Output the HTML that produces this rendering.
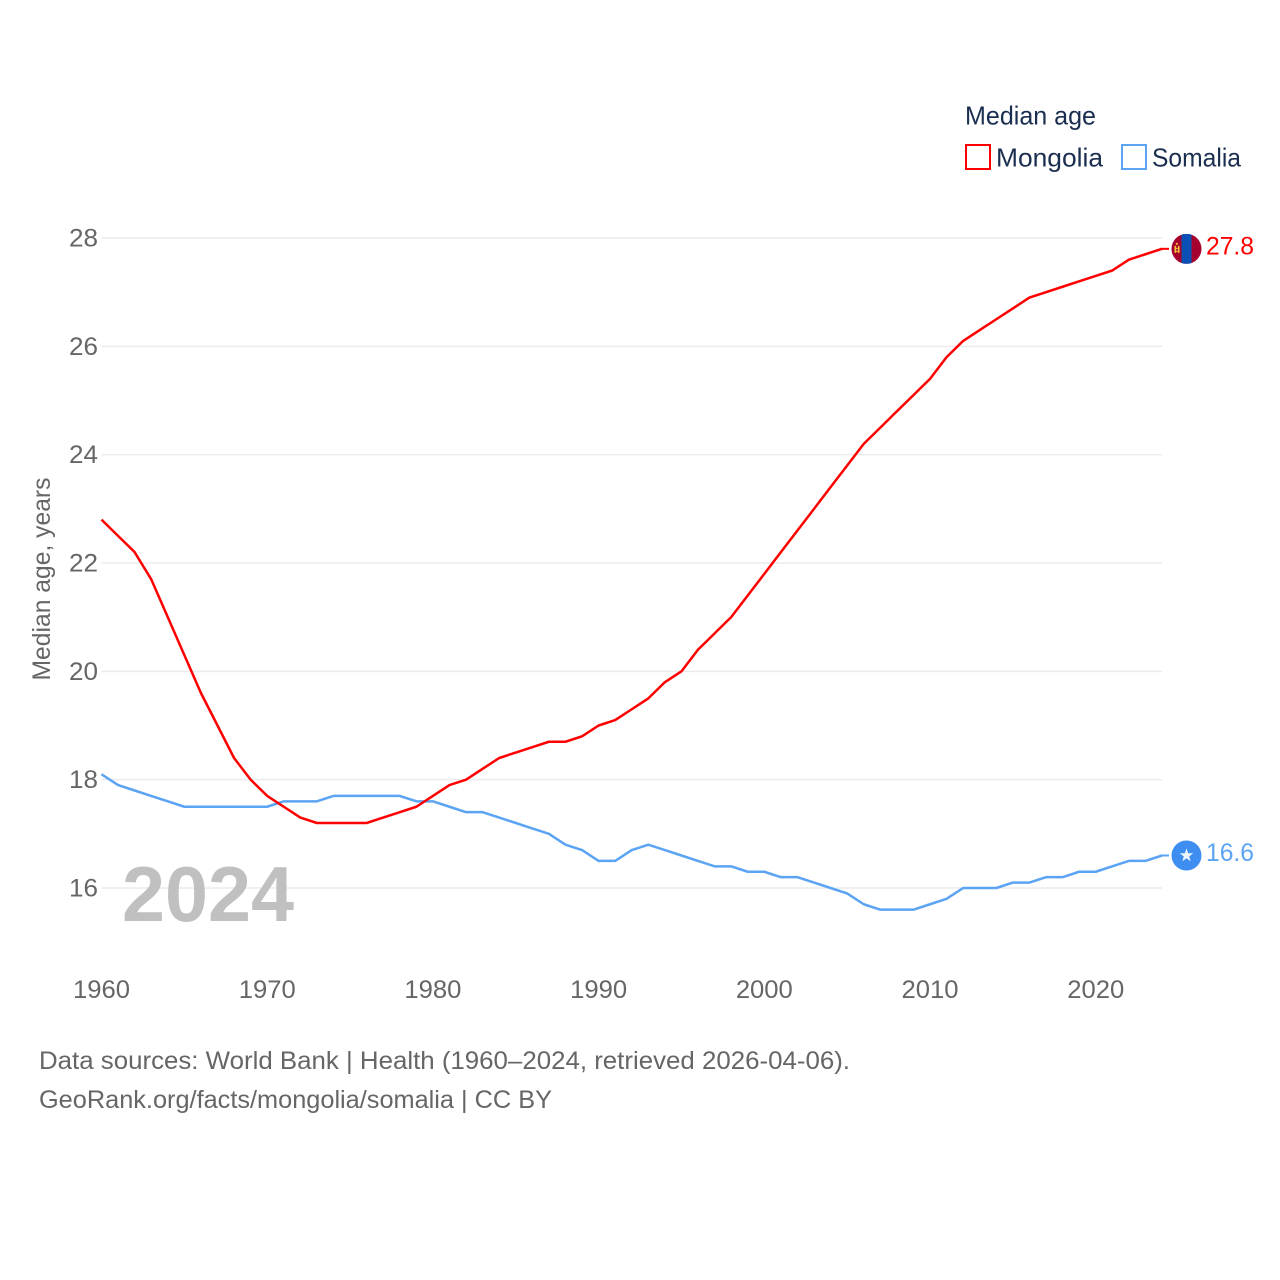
<!DOCTYPE html>
<html lang="en">
<head>
<meta charset="utf-8">
<title>Median age: Mongolia and Somalia</title>
<style>
html,body{margin:0;padding:0;background:#fff;width:1280px;height:1280px;overflow:hidden}
svg{display:block}
text{font-family:"Liberation Sans",sans-serif}
.tick{font-size:25px;fill:#666}
.leg{font-size:26px;fill:#1a2e4f}
.foot{font-size:25px;fill:#666}
</style>
</head>
<body>
<svg id="chart" width="1280" height="1280" viewBox="0 0 1280 1280" xmlns="http://www.w3.org/2000/svg">
  <g id="grid"></g>
  <g id="yticks"></g>
  <g id="xticks"></g>
  <text transform="translate(50,579) rotate(-90)" text-anchor="middle" font-size="25" fill="#666" textLength="203" lengthAdjust="spacingAndGlyphs">Median age, years</text>
  <text x="122" y="921" font-size="78" font-weight="700" fill="#bdbdbd" fill-opacity="0.95" textLength="172" lengthAdjust="spacingAndGlyphs">2024</text>
  <path id="line-somalia" fill="none" stroke="#5ba4f3" stroke-width="2.5" stroke-linejoin="round"></path>
  <path id="line-mongolia" fill="none" stroke="#ff0000" stroke-width="2.5" stroke-linejoin="round"></path>
  <line id="lead-mongolia" stroke="#ff0000" stroke-width="2"></line>
  <line id="lead-somalia" stroke="#5ba4f3" stroke-width="2"></line>

  <g id="marker-mongolia">
    <clipPath id="flagclip"><circle cx="0" cy="0" r="15"></circle></clipPath>
    <g clip-path="url(#flagclip)">
      <rect x="-15" y="-15" width="30" height="30" fill="#a6002c"></rect>
      <rect x="-5" y="-15" width="10" height="30" fill="#0a50b4"></rect>
      <rect x="-12" y="-3" width="1.6" height="7" fill="#f4c838"></rect>
      <rect x="-8.6" y="-3" width="1.6" height="7" fill="#f4c838"></rect>
      <rect x="-10.6" y="-6" width="1.8" height="2" fill="#f4c838"></rect>
      <rect x="-10.4" y="-1" width="1.6" height="1.2" fill="#f4c838"></rect>
      <rect x="-10.4" y="2" width="1.6" height="1.2" fill="#f4c838"></rect>
    </g>
  </g>
  <text id="value-mongolia" font-size="25" fill="#ff0000" textLength="48" lengthAdjust="spacingAndGlyphs"></text>

  <g id="marker-somalia">
    <circle cx="0" cy="0" r="15" fill="#3d8ef0"></circle>
    <polygon fill="#fff" opacity="0.92" points="0,-7 1.7,-2.2 6.7,-2.2 2.7,0.9 4.1,5.7 0,2.8 -4.1,5.7 -2.7,0.9 -6.7,-2.2 -1.7,-2.2"></polygon>
  </g>
  <text id="value-somalia" font-size="25" fill="#5ba4f3" textLength="48" lengthAdjust="spacingAndGlyphs"></text>

  <g>
    <text class="leg" x="965" y="124.5" textLength="131" lengthAdjust="spacingAndGlyphs">Median age</text>
    <rect x="966" y="145" width="24" height="24" fill="#fff" stroke="#ff0000" stroke-width="2"></rect>
    <text class="leg" x="996" y="166.5" textLength="107" lengthAdjust="spacingAndGlyphs">Mongolia</text>
    <rect x="1122" y="145" width="24" height="24" fill="#fff" stroke="#5ba4f3" stroke-width="2"></rect>
    <text class="leg" x="1152" y="166.5" textLength="89" lengthAdjust="spacingAndGlyphs">Somalia</text>
  </g>

  <text class="foot" x="39" y="1069" textLength="811" lengthAdjust="spacingAndGlyphs">Data sources: World Bank | Health (1960–2024, retrieved 2026-04-06).</text>
  <text class="foot" x="39" y="1108" textLength="513" lengthAdjust="spacingAndGlyphs">GeoRank.org/facts/mongolia/somalia | CC BY</text>
</svg>
<script>
const years = [1960,1961,1962,1963,1964,1965,1966,1967,1968,1969,1970,1971,1972,1973,1974,1975,1976,1977,1978,1979,1980,1981,1982,1983,1984,1985,1986,1987,1988,1989,1990,1991,1992,1993,1994,1995,1996,1997,1998,1999,2000,2001,2002,2003,2004,2005,2006,2007,2008,2009,2010,2011,2012,2013,2014,2015,2016,2017,2018,2019,2020,2021,2022,2023,2024];
const mongolia = [22.8,22.5,22.2,21.7,21.0,20.3,19.6,19.0,18.4,18.0,17.7,17.5,17.3,17.2,17.2,17.2,17.2,17.3,17.4,17.5,17.7,17.9,18.0,18.2,18.4,18.5,18.6,18.7,18.7,18.8,19.0,19.1,19.3,19.5,19.8,20.0,20.4,20.7,21.0,21.4,21.8,22.2,22.6,23.0,23.4,23.8,24.2,24.5,24.8,25.1,25.4,25.8,26.1,26.3,26.5,26.7,26.9,27.0,27.1,27.2,27.3,27.4,27.6,27.7,27.8];
const somalia = [18.1,17.9,17.8,17.7,17.6,17.5,17.5,17.5,17.5,17.5,17.5,17.6,17.6,17.6,17.7,17.7,17.7,17.7,17.7,17.6,17.6,17.5,17.4,17.4,17.3,17.2,17.1,17.0,16.8,16.7,16.5,16.5,16.7,16.8,16.7,16.6,16.5,16.4,16.4,16.3,16.3,16.2,16.2,16.1,16.0,15.9,15.7,15.6,15.6,15.6,15.7,15.8,16.0,16.0,16.0,16.1,16.1,16.2,16.2,16.3,16.3,16.4,16.5,16.5,16.6];
const yTickValues = [16,18,20,22,24,26,28];
const xTickValues = [1960,1970,1980,1990,2000,2010,2020];

const NS = 'http://www.w3.org/2000/svg';
function xScale(year){ return 101.5 + (year - 1960) * (1162 - 101.5) / (2024 - 1960); }
function yScale(v){ return 888 - (v - 16) * (888 - 238) / (28 - 16); }
function make(tag, attrs, text){
  const el = document.createElementNS(NS, tag);
  for (const k in attrs) el.setAttribute(k, attrs[k]);
  if (text !== undefined) el.textContent = text;
  return el;
}
const grid = document.getElementById('grid');
const yG = document.getElementById('yticks');
const xG = document.getElementById('xticks');

yTickValues.forEach(function(v){
  const y = yScale(v);
  const ln = make('line', {x1: 101.5, x2: 1162, y1: y, y2: y, stroke: '#ebebeb', 'stroke-width': 1.5});
  
  
  grid.appendChild(ln);
  const t = make('text', {class: 'tick', x: 98, y: y + 8.5, 'text-anchor': 'end', textLength: 29, lengthAdjust: 'spacingAndGlyphs'}, String(v));
  
  
  yG.appendChild(t);
});
xTickValues.forEach(function(v){
  const t = make('text', {class: 'tick', x: xScale(v), y: 998, 'text-anchor': 'middle', textLength: 57, lengthAdjust: 'spacingAndGlyphs'}, String(v));
  
  
  xG.appendChild(t);
});
function linePath(vals){
  return vals.map(function(v, i){
    return (i ? 'L' : 'M') + xScale(years[i]).toFixed(2) + ' ' + yScale(v).toFixed(2);
  }).join('');
}
function placeEnd(vals, key){
  const last = vals[vals.length - 1];
  const y = yScale(last);
  document.getElementById('line-' + key).setAttribute('d', linePath(vals));
  const lead = document.getElementById('lead-' + key);
  lead.setAttribute('x1', xScale(years[years.length - 1]) - 1);
  lead.setAttribute('x2', 1169);
  lead.setAttribute('y1', y);
  lead.setAttribute('y2', y);
  document.getElementById('marker-' + key).setAttribute('transform', 'translate(1186.5,' + y + ')');
  const val = document.getElementById('value-' + key);
  val.setAttribute('x', 1206);
  val.setAttribute('y', y + 5.5);
  val.textContent = last.toFixed(1);
}
placeEnd(somalia, 'somalia');
placeEnd(mongolia, 'mongolia');
</script>
</body>
</html>
